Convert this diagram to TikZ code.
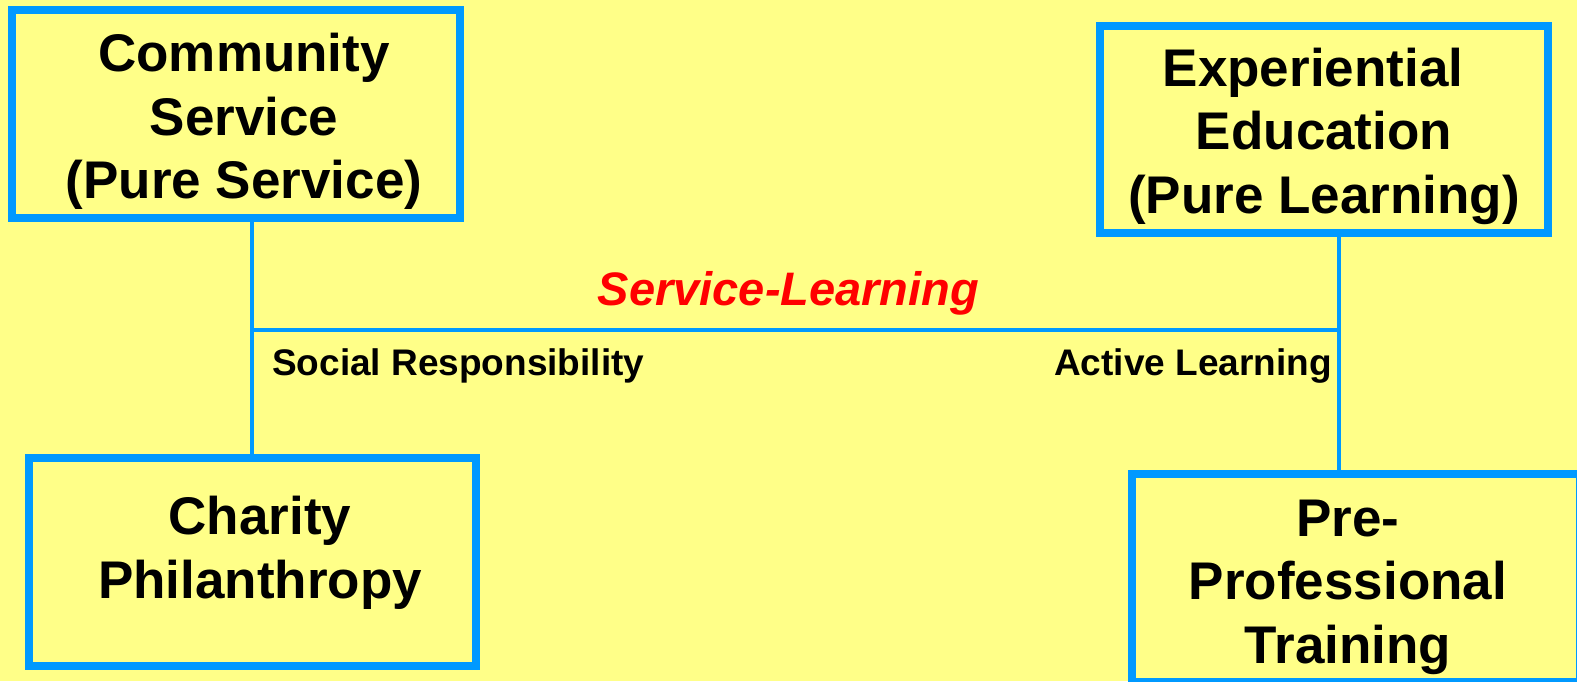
\documentclass[tikz,border=0pt]{standalone}
\usepackage{fontspec}
\setmainfont{Liberation Sans}
\definecolor{paper}{RGB}{255,255,136}
\definecolor{frameblue}{RGB}{0,153,255}
\definecolor{slred}{RGB}{255,0,0}
\begin{document}
\begin{tikzpicture}[x=1pt,y=-1pt,
  conceptbox/.style={draw=frameblue, line width=8pt, rectangle, inner sep=0pt,
    minimum width=448pt, minimum height=208pt},
  bigtext/.style={align=center, inner sep=0pt,
    font=\fontsize{53}{63.5}\selectfont\bfseries},
  sidelabel/.style={inner sep=0pt, font=\fontsize{37}{44}\selectfont\bfseries},
  link/.style={draw=frameblue, line width=4pt}]
  % page and background
  \useasboundingbox (0,0) rectangle (1577,681);
  \clip (0,0) rectangle (1577,681);
  \fill[paper] (0,0) rectangle (1577,681);

  % the four corner boxes
  \node[conceptbox] (cs) at (236,114) {};
  \node[conceptbox, minimum height=207pt] (ee) at (1324,129.5) {};
  \node[conceptbox, minimum width=447pt] (ch) at (252,562) {};
  \node[conceptbox] (pp) at (1356,578) {};

  % box captions
  \node[bigtext] (cst) at (244,121.5) {Community\\Service\\(Pure Service)};
  \node[bigtext] (eet) at (1324,136) {Experiential\hspace*{22pt}\\Education\\(Pure Learning)};
  \node[bigtext] (cht) at (260,553) {Charity\\Philanthropy};
  \node[bigtext] (ppt) at (1348,587) {Pre-\\Professional\\Training};

  % the service-learning bar and its two uprights
  \coordinate (L) at (252,330);
  \coordinate (R) at (1339,330);
  \draw[link] (L |- cs.south) -- (L |- ch.north);
  \draw[link] (R |- ee.south) -- (R |- pp.north);
  \draw[link] (L) -- (R);

  % labels
  \node[anchor=base, inner sep=0pt, text=slred,
    font=\fontsize{47}{56}\selectfont\bfseries\itshape] (sl) at (788.5,305) {Service-Learning};
  \node[sidelabel, anchor=base west] (sr) at (272,375) {Social Responsibility};
  \node[sidelabel, anchor=base east] (al) at (1332,375) {Active Learning};
\end{tikzpicture}
\end{document}
